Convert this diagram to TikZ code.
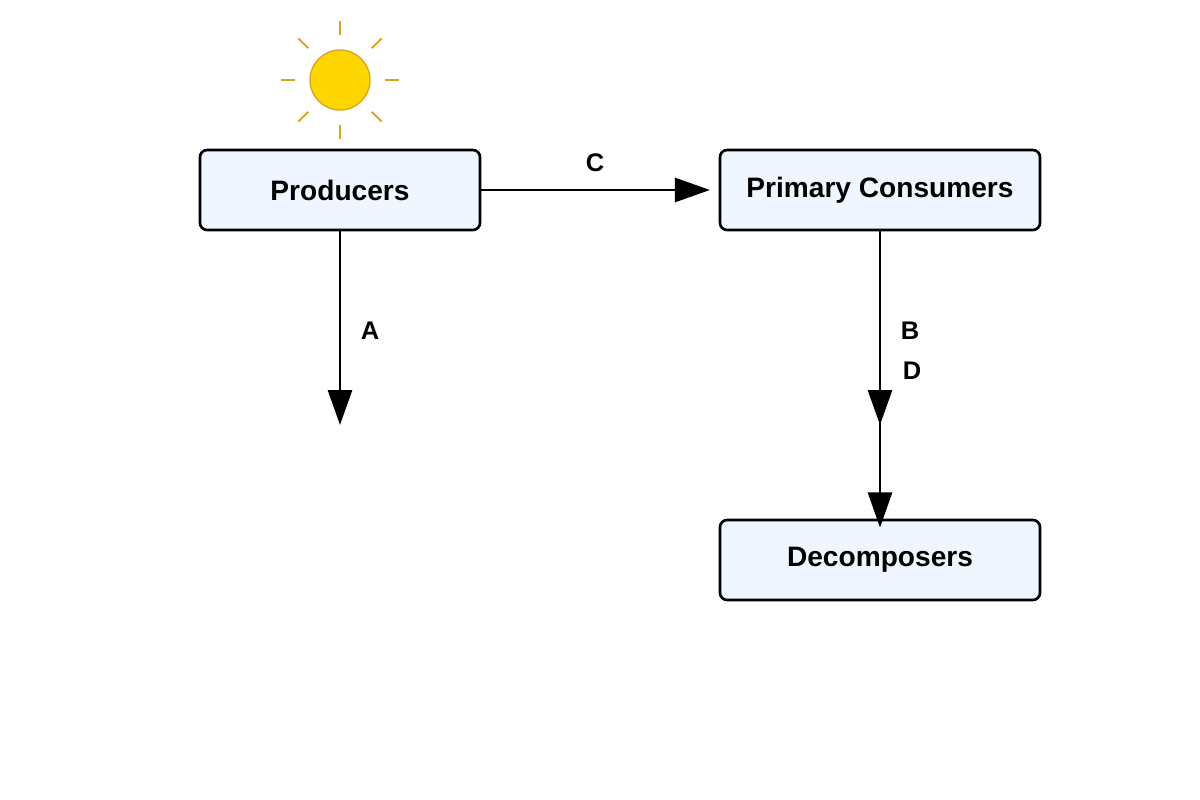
\documentclass[tikz,border=0pt]{standalone}
\usepackage{fontspec}
\setmainfont{Liberation Sans}
\usetikzlibrary{arrows.meta,calc}
\begin{document}
\begin{tikzpicture}[x=0.02cm,y=-0.02cm,
  box/.style={draw=black,line width=1.5pt,rounded corners=4pt,fill={rgb,255:red,239;green,246;blue,255},minimum width=5.6cm,inner sep=0pt,minimum height=1.6cm,font=\bfseries\fontsize{16}{18}\selectfont},
  arr/.style={line width=1.6pt,-{Triangle[length=0.7cm,width=0.48cm]}},
  lab/.style={font=\bfseries\fontsize{14.5}{16}\selectfont},
  ray/.style={draw={rgb,255:red,218;green,165;blue,32},line width=1.1pt}]
\useasboundingbox (0,0) rectangle (1200,800);
\node[box] (prod) at (340,190) {Producers};
\node[box,minimum width=6.4cm] (prim) at (880,190) {Primary Consumers};
\node[box,minimum width=6.4cm] (dec) at (880,560) {Decomposers};
\node[circle,minimum size=1.2cm,inner sep=0pt,fill={rgb,255:red,255;green,215;blue,0},draw={rgb,255:red,218;green,165;blue,32},line width=0.8pt] (sun) at (340,80) {};
\foreach \a in {0,45,...,315}{
  \draw[ray] ($(sun.center)+(\a:45)$) -- ($(sun.center)+(\a:59)$);
}
\coordinate (aend) at (340,425);
\coordinate (bend) at (880,425);
\coordinate (dstart) at (880,420);
\draw[arr] (prod.south) -- (aend);
\draw[arr] (prod.east) -- ([xshift=-5]prim.west);
\draw[arr] (prim.south) -- (bend);
\draw[arr] (dstart) -- ([yshift=-5]dec.north);
\node[lab] (la) at (370,331) {A};
\node[lab] (lc) at (595,163) {C};
\node[lab] (lb) at (910,331) {B};
\node[lab] (ld) at (912,371) {D};
\end{tikzpicture}
\end{document}
